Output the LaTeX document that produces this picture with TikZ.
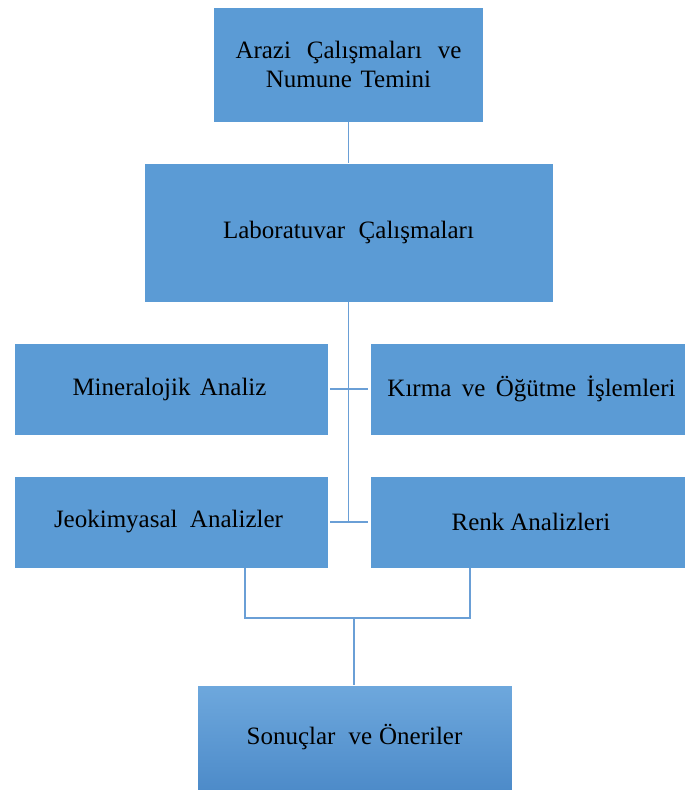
\documentclass[tikz,border=0pt]{standalone}
\usepackage{fontspec}
\setmainfont{Liberation Serif}
\definecolor{boxblue}{HTML}{5B9BD5}
\definecolor{linblue}{HTML}{6A9FD6}
\definecolor{gradtop}{HTML}{6EA8DD}
\definecolor{gradbot}{HTML}{4D8BC9}
\newcommand\gap[1]{\hspace*{#1pt}}
\tikzset{
  box/.style={fill=boxblue, draw=white, line width=0.6pt, inner sep=0pt, align=center,
    font=\fontsize{25}{28.5}\selectfont, text=black},
  conn/.style={draw=linblue, line width=1.7pt},
}
\begin{document}
\begin{tikzpicture}[x=1pt,y=-1pt]
\useasboundingbox (0,0) rectangle (686,792);
\node[box, minimum width=270, minimum height=115] (top) at (348.5,64.5)
  {Arazi\gap{15.8}Çalışmaları\gap{15.8}ve\\Numune\gap{8.7}Temini};
\node[box, minimum width=409, minimum height=139] (lab) at (348.5,232.5)
  {Laboratuvar\gap{13.5}Çalışmaları};
\node[box, minimum width=314, minimum height=92] (min) at (171,389)
  {\hspace*{-3pt}Mineralojik\gap{9.3}Analiz};
\node[box, minimum width=315, minimum height=92] (kir) at (527.5,389)
  {\hspace*{8pt}Kırma\gap{10.4}ve\gap{10.4}Öğütme\gap{10.4}İşlemleri};
\node[box, minimum width=314, minimum height=92] (jeo) at (171,522)
  {\hspace*{-5pt}Jeokimyasal\gap{12.4}Analizler};
\node[box, minimum width=315, minimum height=92] (renk) at (527.5,522)
  {\hspace*{7pt}Renk\gap{6}Analizleri};
\node[box, shade, top color=gradtop, bottom color=gradbot, minimum width=315, minimum height=105] (son) at (354.5,737.5)
  {Sonuçlar\gap{13}ve\gap{7}Öneriler};
\coordinate (tb) at (349,522);
\coordinate (bus) at (354,618);
\draw[conn] (top.south) -- (top.south |- lab.north);
\draw[conn] (lab.south) -- (lab.south |- tb);
\draw[conn, shorten <=2pt, shorten >=2pt] (min.east) -- (kir.west);
\draw[conn, shorten <=2pt, shorten >=2pt] (jeo.east) -- (renk.west);
\draw[conn] ([xshift=74pt]jeo.south) |- (bus) -| ([xshift=-57.5pt]renk.south);
\draw[conn] (bus) -- (bus |- son.north);
\end{tikzpicture}
\end{document}
